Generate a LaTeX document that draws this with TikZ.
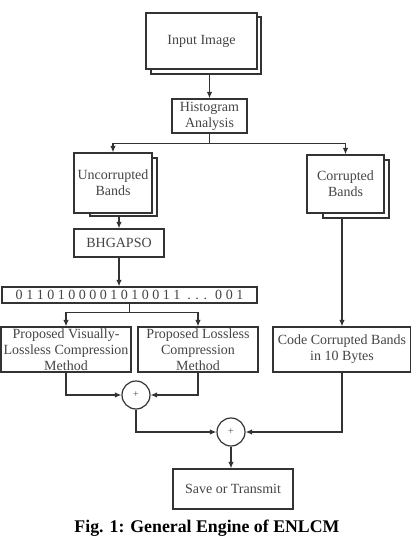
\documentclass[tikz,border=0pt]{standalone}
\usepackage{fontspec}
\setmainfont{Liberation Serif}
\usetikzlibrary{arrows.meta,calc}
\definecolor{ln}{HTML}{333333}
\definecolor{tx}{HTML}{454545}
\begin{document}
\begin{tikzpicture}[x=1pt,y=-1pt,
  box/.style={draw=ln,line width=1.2pt,fill=white,text=tx,align=center,inner sep=0pt,font=\fontsize{14}{16}\selectfont},
  shbox/.style={draw=ln,line width=1.2pt,fill=white,inner sep=0pt},
  sumnode/.style={circle,draw=ln,line width=1.2pt,fill=white,minimum size=28,inner sep=0pt,text=tx,font=\fontsize{10}{10}\selectfont},
  conn/.style={draw=ln,line width=1.2pt},
  arr/.style={conn,-{Latex[length=6.5pt,width=5.5pt]}}]
\useasboundingbox (0,0) rectangle (411,537);
% Input image
\node[shbox,minimum width=110,minimum height=57] (in2) at (206,45.5) {};
\node[box,minimum width=111,minimum height=56] (in) at (201.5,41) {Input Image};
% Histogram
\node[box,minimum width=75,minimum height=34] (hist) at (209.5,116) {Histogram\\Analysis};
% Uncorrupted
\node[shbox,minimum width=67,minimum height=58] (unc2) at (123.5,187) {};
\node[box,minimum width=78,minimum height=60] (unc) at (113,183) {Uncorrupted\\Bands};
% Corrupted
\node[shbox,minimum width=66,minimum height=58] (cor2) at (356,189) {};
\node[box,minimum width=77,minimum height=58] (cor) at (345.5,184) {Corrupted\\Bands};
% BHGAPSO
\node[box,minimum width=90,minimum height=28] (bh) at (119,243) {BHGAPSO};
% bits
\node[box,minimum width=255,minimum height=16] (bits) at (129.5,295) {0 1 1 0 1 0 0 0 0 1 0 1 0 0 1 1 \ . . . \ 0 0 1};
% methods
\node[box,minimum width=130,minimum height=45] (pv) at (66,349.5) {Proposed Visually-\\Lossless Compression\\Method};
\node[box,minimum width=120,minimum height=45] (pl) at (198,349.5) {Proposed Lossless\\Compression\\Method};
\node[box,minimum width=138,minimum height=45] (cc) at (342,349.5) {Code Corrupted Bands\\in 10 Bytes};
% sums
\node[sumnode] (c1) at (136,395) {+};
\node[sumnode] (c2) at (231,432) {+};
% save
\node[box,minimum width=120,minimum height=40] (save) at (233,489) {Save or Transmit};
% caption
\node[anchor=base,inner sep=0pt,font=\fontsize{17.8}{20}\selectfont\bfseries] (cap) at (207,532) {Fig. 1: General Engine of ENLCM};
% connectors
\draw[arr] (hist.north |- in2.south) -- (hist.north);
\coordinate (sp1) at ($(hist.south)+(0,10)$);
\draw[conn] (hist.south) -- (sp1);
\draw[arr] (sp1) -| (unc.north);
\draw[arr] (sp1) -| (cor.north);
\draw[arr] (unc2.south -| bh.north) -- (bh.north);
\draw[arr] (bh.south) -- (bh.south |- bits.north);
\draw[arr] (cor2.south -| cc.north) -- (cc.north);
\coordinate (sp2) at ($(bits.south)+(0,9)$);
\draw[conn] (bits.south) -- (sp2);
\draw[arr] (sp2) -| (pv.north);
\draw[arr] (sp2) -| (pl.north);
\draw[arr] (pv.south) |- (c1.west);
\draw[arr] (pl.south) |- (c1.east);
\draw[arr] (c1.south) |- (c2.west);
\draw[arr] (cc.south) |- (c2.east);
\draw[arr] (c2.south) -- (c2.south |- save.north);
\end{tikzpicture}
\end{document}
